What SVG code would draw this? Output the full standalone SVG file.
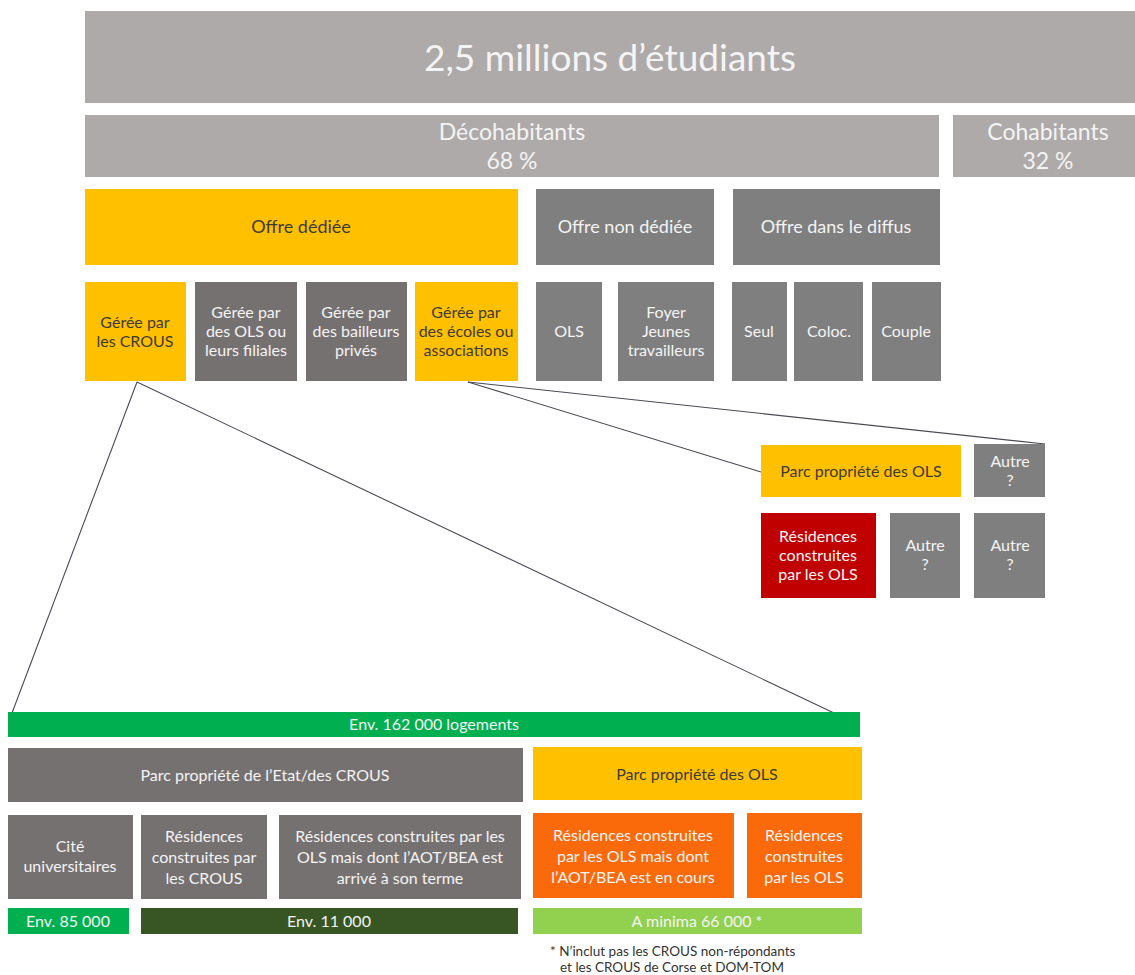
<svg xmlns="http://www.w3.org/2000/svg" width="1135" height="975" viewBox="0 0 1135 975">
<style>
text{font-family:Lato,"Open Sans","Liberation Sans",sans-serif;text-anchor:middle}
.lg{fill:#AEAAAA}
.mg{fill:#7F7F7F}
.bg{fill:#767171}
.yl{fill:#FFC000}
.rd{fill:#C00000}
.or{fill:#FA6A0A}
.gr{fill:#00B050}
.dg{fill:#375623}
.lgr{fill:#92D050}
.w{fill:#F4F4F4}
.d{fill:#3F3A3A}
.f36{font-size:37px}
.f22{font-size:23px}
.f18{font-size:18px}
.f16{font-size:16px}
.fn{font-size:13.5px;fill:#333;text-anchor:start}
.con{stroke:#4A4A55;stroke-width:1.1;fill:none}
</style>
<rect width="1135" height="975" fill="#fff"/>

<g id="connectors">
<line class="con" x1="137" y1="382" x2="12" y2="713"/>
<line class="con" x1="137" y1="382" x2="834" y2="713"/>
<line class="con" x1="468" y1="382" x2="761" y2="472"/>
<line class="con" x1="468" y1="382" x2="1045" y2="444"/>
</g>

<g id="etudiants"><rect class="lg" x="85" y="11" width="1050" height="92"/><text class="w f36" x="610" y="71">2,5 millions d’étudiants</text></g>
<g id="decohabitants"><rect class="lg" x="85" y="115" width="854" height="62"/><text class="w f22" x="512" y="140">Décohabitants</text><text class="w f22" x="512" y="169">68 %</text></g>
<g id="cohabitants"><rect class="lg" x="953" y="115" width="182" height="62"/><text class="w f22" x="1048" y="140">Cohabitants</text><text class="w f22" x="1048" y="169">32 %</text></g>

<g id="offre-dediee"><rect class="yl" x="85" y="189" width="433" height="76"/><text class="d f18" x="301" y="233">Offre dédiée</text></g>
<g id="offre-non-dediee"><rect class="mg" x="536" y="189" width="178" height="76"/><text class="w f18" x="625" y="233">Offre non dédiée</text></g>
<g id="offre-diffus"><rect class="mg" x="733" y="189" width="207" height="76"/><text class="w f18" x="836" y="233">Offre dans le diffus</text></g>

<g id="crous"><rect class="yl" x="85" y="282" width="101" height="99"/><text class="d f16" x="135" y="328">Gérée par</text><text class="d f16" x="135" y="347">les CROUS</text></g>
<g id="ols-filiales"><rect class="bg" x="195" y="282" width="102" height="99"/><text class="w f16" x="246" y="318">Gérée par</text><text class="w f16" x="246" y="337">des OLS ou</text><text class="w f16" x="246" y="356">leurs filiales</text></g>
<g id="bailleurs"><rect class="bg" x="306" y="282" width="101" height="99"/><text class="w f16" x="356" y="318">Gérée par</text><text class="w f16" x="356" y="337">des bailleurs</text><text class="w f16" x="356" y="356">privés</text></g>
<g id="ecoles"><rect class="yl" x="415" y="282" width="103" height="99"/><text class="d f16" x="466" y="318">Gérée par</text><text class="d f16" x="466" y="337">des écoles ou</text><text class="d f16" x="466" y="356">associations</text></g>
<g id="ols"><rect class="mg" x="536" y="282" width="66" height="99"/><text class="w f16" x="569" y="337">OLS</text></g>
<g id="foyer"><rect class="mg" x="618" y="282" width="96" height="99"/><text class="w f16" x="666" y="318">Foyer</text><text class="w f16" x="666" y="337">Jeunes</text><text class="w f16" x="666" y="356">travailleurs</text></g>
<g id="seul"><rect class="mg" x="732" y="282" width="55" height="99"/><text class="w f16" x="759" y="337">Seul</text></g>
<g id="coloc"><rect class="mg" x="794" y="282" width="69" height="99"/><text class="w f16" x="829" y="337">Coloc.</text></g>
<g id="couple"><rect class="mg" x="872" y="282" width="69" height="99"/><text class="w f16" x="906" y="337">Couple</text></g>

<g id="parc-ols-ecoles"><rect class="yl" x="761" y="445" width="200" height="52"/><text class="d f16" x="861" y="477">Parc propriété des OLS</text></g>
<g id="autre-1"><rect class="mg" x="974" y="444" width="71" height="53"/><text class="w f16" x="1010" y="467">Autre</text><text class="w f16" x="1010" y="486">?</text></g>
<g id="residences-ols-rouge"><rect class="rd" x="761" y="513" width="115" height="85"/><text class="w f16" x="818" y="542">Résidences</text><text class="w f16" x="818" y="561">construites</text><text class="w f16" x="818" y="580">par les OLS</text></g>
<g id="autre-2"><rect class="mg" x="890" y="513" width="70" height="85"/><text class="w f16" x="925" y="551">Autre</text><text class="w f16" x="925" y="570">?</text></g>
<g id="autre-3"><rect class="mg" x="974" y="513" width="71" height="85"/><text class="w f16" x="1010" y="551">Autre</text><text class="w f16" x="1010" y="570">?</text></g>

<g id="total"><rect class="gr" x="8" y="712" width="852" height="25"/><text class="w f16" x="434" y="730">Env. 162 000 logements</text></g>
<g id="parc-etat"><rect class="bg" x="8" y="748" width="515" height="54"/><text class="w f16" x="265" y="781">Parc propriété de l’Etat/des CROUS</text></g>
<g id="parc-ols"><rect class="yl" x="533" y="747" width="329" height="53"/><text class="d f16" x="697" y="780">Parc propriété des OLS</text></g>
<g id="cite"><rect class="bg" x="8" y="815" width="125" height="84"/><text class="w f16" x="70" y="852">Cité</text><text class="w f16" x="70" y="872">universitaires</text></g>
<g id="residences-crous"><rect class="bg" x="141" y="815" width="126" height="84"/><text class="w f16" x="204" y="842">Résidences</text><text class="w f16" x="204" y="863">construites par</text><text class="w f16" x="204" y="884">les CROUS</text></g>
<g id="residences-terme"><rect class="bg" x="279" y="815" width="242" height="84"/><text class="w f16" x="400" y="842">Résidences construites par les</text><text class="w f16" x="400" y="863">OLS mais dont l’AOT/BEA est</text><text class="w f16" x="400" y="884">arrivé à son terme</text></g>
<g id="residences-en-cours"><rect class="or" x="533" y="813" width="201" height="85"/><text class="w f16" x="633" y="841">Résidences construites</text><text class="w f16" x="633" y="862">par les OLS mais dont</text><text class="w f16" x="633" y="883">l’AOT/BEA est en cours</text></g>
<g id="residences-ols"><rect class="or" x="747" y="813" width="115" height="85"/><text class="w f16" x="804" y="841">Résidences</text><text class="w f16" x="804" y="862">construites</text><text class="w f16" x="804" y="883">par les OLS</text></g>
<g id="env-85000"><rect class="gr" x="8" y="908" width="121" height="26"/><text class="w f16" x="68" y="927">Env. 85 000</text></g>
<g id="env-11000"><rect class="dg" x="141" y="908" width="377" height="26"/><text class="w f16" x="329" y="927">Env. 11 000</text></g>
<g id="a-minima"><rect class="lgr" x="533" y="908" width="329" height="26"/><text class="w f16" x="697" y="927">A minima 66 000 *</text></g>

<g id="footnote"><text class="fn" x="550" y="956">* N’inclut pas les CROUS non-répondants</text><text class="fn" x="560" y="972">et les CROUS de Corse et DOM-TOM</text></g>
</svg>
